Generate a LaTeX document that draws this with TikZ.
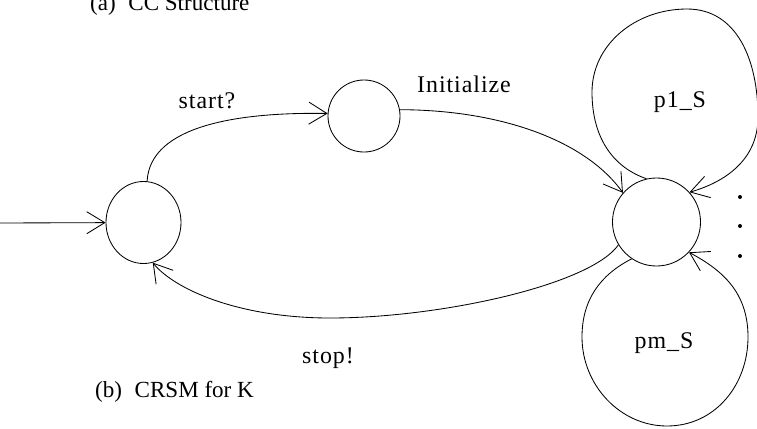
\documentclass[tikz,border=0pt]{standalone}
\usepackage{fontspec}
\setmainfont{Liberation Serif}
\newfontfamily\lblfont[LetterSpace=4]{Liberation Serif}
\usetikzlibrary{arrows.meta,shapes.geometric}

\begin{document}
\begin{tikzpicture}[
  x=0.025cm, y=-0.025cm, line width=0.6pt,
  state/.style={draw, ellipse, inner sep=0pt},
  trans/.style={-{Straight Barb[length=4.5mm, width=5.5mm]}},
  lbl/.style={anchor=base, font=\lblfont\fontsize{17}{20}\selectfont},
  caption/.style={anchor=base west, font=\fontsize{16.4}{20}\selectfont},
  dot/.style={circle, fill, inner sep=0pt, minimum size=1mm},
  ]
  \useasboundingbox (0,0) rectangle (757,428);

  \node[state, minimum width=1.875cm, minimum height=2.05cm] (idle) at (143.5,222.5) {};
  \node[state, minimum width=1.8cm, minimum height=1.8cm] (init) at (364,116) {};
  \node[state, minimum width=2.2cm, minimum height=2.2cm] (active) at (656.5,222) {};
  \coordinate (entry) at (0,223);

  \draw[trans] (entry) -- (idle);
  \draw[trans] (idle.85) .. controls (150,125) and (240,112) .. (init.176);
  \draw[trans] (init.10) .. controls (500,110) and (585,140) .. (active.139);
  \draw[trans] (active.211) .. controls (590,285) and (440,318) .. (330,318)
    .. controls (240,318) and (175,290) .. (idle.-77);

  % the two self loops of the active state
  \draw[trans] (active.103) .. controls (615,168) and (592,140) .. (592,92)
    .. controls (592,45) and (635,9) .. (687,9)
    .. controls (737,9) and (758,60) .. (758,117)
    .. controls (758,160) and (725,182) .. (active.42);
  \draw[trans] (active.236) .. controls (600,275) and (582,300) .. (582,337)
    .. controls (582,385) and (620,426) .. (667,426)
    .. controls (715,426) and (748,385) .. (748,337)
    .. controls (748,292) and (722,270) .. (active.-43);

  \foreach \y [count=\i] in {197,226,256}
    \node[dot] (dot\i) at (740,\y) {};

  \node[lbl] (startlbl) at (207,108) {start?};
  \node[lbl] (initlbl) at (464,92) {Initialize};
  \node[lbl] (stoplbl) at (328,363) {stop!};
  \node[lbl] (p1lbl) at (680,107) {p1\_S};
  \node[lbl] (pmlbl) at (664,348) {pm\_S};

  \node[caption] (capa) at (85,10) {(a)\hspace{0.55em}CC Structure};
  \node[caption] (capb) at (90,397) {(b)\hspace{0.55em}CRSM for K};
\end{tikzpicture}
\end{document}
